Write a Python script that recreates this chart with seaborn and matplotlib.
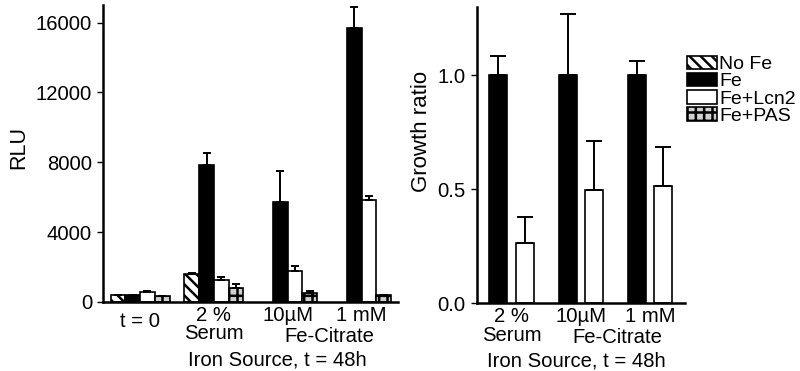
import numpy as np
import pandas as pd
import matplotlib
matplotlib.use("Agg")
import matplotlib.pyplot as plt
import seaborn as sns
from matplotlib.patches import Patch

sns.set_theme(style="white")
plt.rcParams['font.family'] = ['Liberation Sans', 'DejaVu Sans']
plt.rcParams['hatch.linewidth'] = 1.8
plt.rcParams['text.color'] = 'black'
plt.rcParams['axes.labelcolor'] = 'black'
plt.rcParams['xtick.color'] = 'black'
plt.rcParams['ytick.color'] = 'black'

# ---- data ----
treatments = ["No Fe", "Fe", "Fe+Lcn2", "Fe+PAS"]
left_groups = ["t = 0", "2 %\nSerum", "10µM", "1 mM"]
rlu_nofe = [380, 1600, np.nan, np.nan]
rlu_fe = [420, 7850, 5700, 15700]
rlu_lcn2 = [560, 1250, 1800, 5850]
rlu_pas = [350, 780, 520, 380]
rlu_nofe_err = [0, 50, np.nan, np.nan]
rlu_fe_err = [0, 700, 1800, 1200]
rlu_lcn2_err = [90, 200, 250, 200]
rlu_pas_err = [0, 250, 130, 0]

right_groups = ["2 %\nSerum", "10µM", "1 mM"]
ratio_fe = [1.0, 1.0, 1.0]
ratio_lcn2 = [0.265, 0.495, 0.515]
ratio_fe_err = [0.085, 0.27, 0.065]
ratio_lcn2_err = [0.115, 0.215, 0.17]

left_yticks = [0, 4000, 8000, 12000, 16000]
right_yticks = [0.0, 0.5, 1.0]
right_yticklabels = ["0.0", "0.5", "1.0"]

styles = {
    "No Fe": dict(facecolor="white", hatch="\\\\\\"),
    "Fe": dict(facecolor="black", hatch=None),
    "Fe+Lcn2": dict(facecolor="white", hatch=None),
    "Fe+PAS": dict(facecolor="#d0d0d0", hatch="++"),
}

left_df = pd.DataFrame({
    "group": left_groups * 4,
    "treat": sum([[t] * 4 for t in treatments], []),
    "val": rlu_nofe + rlu_fe + rlu_lcn2 + rlu_pas,
    "err": rlu_nofe_err + rlu_fe_err + rlu_lcn2_err + rlu_pas_err,
})
right_treats = ["Fe", "Fe+Lcn2"]
right_df = pd.DataFrame({
    "group": right_groups * 2,
    "treat": ["Fe"] * 3 + ["Fe+Lcn2"] * 3,
    "val": ratio_fe + ratio_lcn2,
    "err": ratio_fe_err + ratio_lcn2_err,
})

fig = plt.figure(figsize=(8, 3.71), dpi=100)
axL = fig.add_axes([0.129, 0.186, 0.369, 0.800])
axR = fig.add_axes([0.596, 0.183, 0.26, 0.798])

FS = 14.6
FSY = 15.5

def style_bars(ax, df, hue_order, capsize):
    for cont, t in zip(ax.containers, hue_order):
        sub = df[df.treat == t].reset_index(drop=True)
        st = styles[t]
        xs, ys = [], []
        for bar in cont.patches:
            bar.set_facecolor(st["facecolor"])
            bar.set_edgecolor("black")
            bar.set_linewidth(1.2)
            if st["hatch"]:
                bar.set_hatch(st["hatch"])
        for bar in cont.patches:
            h = bar.get_height()
            if np.isnan(h) or h == 0:
                continue
            xs.append(bar.get_x() + bar.get_width() / 2)
            ys.append(h)
        vals = sub.dropna(subset=["val"])
        es = list(vals["err"].values)
        if xs:
            ax.errorbar(xs, ys, yerr=[np.zeros(len(es)), es], fmt="none",
                        ecolor="black", elinewidth=1.4, capsize=capsize,
                        capthick=1.4, zorder=1)

# ---- left ----
sns.barplot(data=left_df, x="group", y="val", hue="treat", hue_order=treatments,
            order=left_groups, errorbar=None, width=0.8, ax=axL, legend=False,
            saturation=1)
style_bars(axL, left_df, treatments, 2.8)
axL.set_xlim(-0.5, 3.5)
axL.set_ylim(0, 17000)
axL.set_yticks(left_yticks)
axL.set_yticklabels([str(v) for v in left_yticks], fontsize=FS)
axL.set_ylabel("RLU", fontsize=FSY)
axL.yaxis.set_label_coords(-0.25, 0.52)
axL.set_xlabel("Iron Source, t = 48h", fontsize=FS)
axL.xaxis.set_label_coords(0.59, -0.165)
axL.set_xticks(range(4))
axL.set_xticklabels(left_groups, fontsize=FS, linespacing=0.95)
axL.get_xticklabels()[0].set_y(-0.02)
axL.text(2.57, -0.085, "Fe-Citrate", transform=axL.get_xaxis_transform(),
         ha="center", va="top", fontsize=FS)

# ---- right ----
sns.barplot(data=right_df, x="group", y="val", hue="treat", hue_order=right_treats,
            order=right_groups, errorbar=None, width=0.76, gap=0.32, ax=axR,
            legend=False, saturation=1)
style_bars(axR, right_df, right_treats, 5.5)
axR.set_xlim(-0.5, 2.5)
axR.set_ylim(0, 1.3)
axR.set_yticks(right_yticks)
axR.set_yticklabels(right_yticklabels, fontsize=FS)
axR.set_ylabel("Growth ratio", fontsize=FSY + 0.5)
axR.yaxis.set_label_coords(-0.215, 0.58)
axR.set_xlabel("Iron Source, t = 48h", fontsize=FS)
axR.xaxis.set_label_coords(0.48, -0.165)
axR.set_xticks(range(3))
axR.set_xticklabels(right_groups, fontsize=FS, linespacing=0.95)
axR.text(1.52, -0.085, "Fe-Citrate", transform=axR.get_xaxis_transform(),
         ha="center", va="top", fontsize=FS)

for ax in (axL, axR):
    sns.despine(ax=ax)
    for s in ("left", "bottom"):
        ax.spines[s].set_color("black")
        ax.spines[s].set_linewidth(1.8)
    ax.tick_params(axis="y", direction="out", length=4, width=1, color="black",
                   labelcolor="black", left=True, pad=4)
    ax.tick_params(axis="x", length=0, pad=3, labelcolor="black")
    ax.set_facecolor("white")

handles = []
for t in treatments:
    st = styles[t]
    handles.append(Patch(facecolor=st["facecolor"], edgecolor="black",
                         hatch=st["hatch"], linewidth=1.2, label=t))
fig.legend(handles=handles, loc="upper left", bbox_to_anchor=(0.859, 0.85),
           frameon=False, fontsize=14, handlelength=1.55, handleheight=0.7,
           handletextpad=0.1, labelspacing=-0.02, borderaxespad=0,
           borderpad=0, labelcolor="black")

fig.savefig("out.png", dpi=100, facecolor="white")
